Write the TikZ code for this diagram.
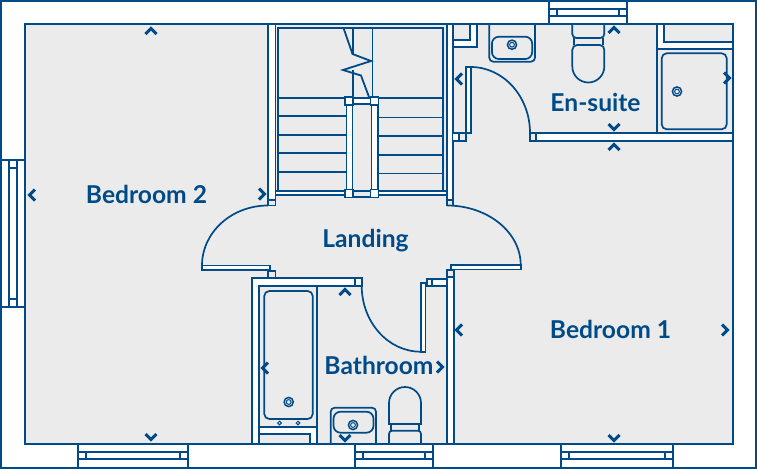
\documentclass[tikz,border=0pt]{standalone}
\usepackage{fontspec}
\setmainfont{Lato}
\definecolor{planblue}{HTML}{004B87}
\definecolor{plangrey}{HTML}{EBEBEB}
\tikzset{
  x=1pt,y=-1pt,
  plan/.style={draw=planblue,line width=1.7pt,line join=miter},
  wall/.style={plan,fill=white},
  fit/.style={plan,fill=plangrey},
  thin plan/.style={plan,line width=1.8pt},
  room/.style={text=planblue,font=\fontsize{24.6}{25}\selectfont\bfseries,inner sep=0pt,anchor=base},
  chev/.style={draw=planblue,line width=3pt,line cap=butt,line join=miter},
}
\newcommand{\chevup}[2]{\draw[chev] (#1-5.5,#2+3)--(#1,#2-2.5)--(#1+5.5,#2+3);}
\newcommand{\chevdown}[2]{\draw[chev] (#1-5.5,#2-3)--(#1,#2+2.5)--(#1+5.5,#2-3);}
\newcommand{\chevleft}[2]{\draw[chev] (#1+3,#2-5.5)--(#1-2.5,#2)--(#1+3,#2+5.5);}
\newcommand{\chevright}[2]{\draw[chev] (#1-3,#2-5.5)--(#1+2.5,#2)--(#1-3,#2+5.5);}
\newcommand{\drainat}[2]{\draw[plan,line width=1.5pt] (#1,#2) circle (4.6); \draw[plan,line width=1pt] (#1,#2) circle (2.4);}
\newcommand{\windowh}[7]{% x1 x2 y1 y2 y3 y4 unused
  \draw[wall] (#1,#3) rectangle (#2,#4);
  \draw[plan] (#1,#5)--(#2,#5) (#1,#6)--(#2,#6);
  \draw[plan] (#1+8,#5)--(#1+8,#6) (#2-8,#5)--(#2-8,#6);}
\begin{document}
\begin{tikzpicture}
\useasboundingbox (0,0) rectangle (757,469);
% frame and floor
\draw[wall] (0.8,0.8) rectangle (756.2,468.2);
\draw[fit] (25,24) rectangle (733,444);
% windows
\windowh{549.3}{626.7}{1}{24}{8.7}{15.7}{}
\windowh{78}{188}{444}{468}{452}{459}{}
\windowh{355}{432.7}{444}{468}{452}{459}{}
\windowh{560.7}{673}{444}{468}{452}{459}{}
\draw[wall] (1,160) rectangle (25,307);
\draw[plan] (8.7,160)--(8.7,307) (16.7,160)--(16.7,307);
\draw[plan] (8.7,168)--(16.7,168) (8.7,299)--(16.7,299);
% stair walls
\draw[wall] (268,24) rectangle (275.5,200);
\draw[plan,fill=plangrey] (268,200) rectangle (275.5,205.5);
\draw[wall] (447,24) rectangle (453.3,200);
\draw[plan,fill=plangrey] (447,200) rectangle (453.3,205.5);
% stair frame
\draw[plan] (275.5,24) rectangle (447,195);
\draw[plan] (278,28) rectangle (443,191);
\draw[wall] (275.5,191) rectangle (447,195);
% treads
\foreach \y in {98,116,134.7,153,172}{\draw[thin plan] (278,\y)--(346,\y);}
\foreach \y in {98,117.5,136,155,173.5}{\draw[thin plan] (377,\y)--(443,\y);}
% flight lines and break
\draw[thin plan] (353,28)--(353,54) (372.5,28)--(372.5,97) (353,70)--(353,97);
\draw[thin plan] (343.5,28)--(352.5,54)--(371,61)--(343,70)--(361,75.5)--(369,97);
% newel posts and rails
\draw[wall] (346.5,100)rectangle(352.5,193);
\draw[wall] (371.5,100)rectangle(378,193);
\draw[wall] (350,98)rectangle(373,104);
\draw[fit] (350,191)rectangle(373,197);
\foreach \x/\y in {345/96.7,370.5/96.7,345/189.5,370.5/189.5}{\draw[wall] (\x,\y) rectangle ++(8,8);}
% landing doors
\draw[wall] (202,265.5) rectangle (270,270);
\draw[wall] (451,265) rectangle (520.7,269.5);
\draw[plan] (268,205.5) arc[start angle=90,end angle=180,x radius=66,y radius=-60];
\draw[plan] (447,205.5) arc[start angle=90,end angle=0,x radius=73.7,y radius=-59.5];
% bathroom walls
\draw[wall] (252.3,444)--(252.3,278)--(361.7,278)--(361.7,285.7)--(259,285.7)--(259,444)--cycle;
\draw[wall] (355,278) rectangle (361.7,285.7);
\draw[plan,fill=plangrey] (268,271) rectangle (275.5,278);
\draw[wall] (447,270) rectangle (454,444);
\draw[plan,fill=plangrey] (447,270) rectangle (454,277);
\draw[wall] (425.5,278.7)--(447,278.7)--(447,285.7)--(425.5,285.7);
\draw[wall] (427,278.7) rectangle (432,285.7);
\draw[wall] (420.7,283.3) rectangle (425.5,351.7);
\draw[plan] (361.7,285.7) arc[start angle=180,end angle=270,x radius=59,y radius=-66];
% bath
\draw[plan] (317.3,285.7)--(317.3,444);
\draw[wall] (259,427)--(317.3,427)--(317.3,444)--(310,444)--(310,434)--(259,434)--cycle;
\draw[plan,rounded corners=5pt] (264.3,291) rectangle (312.7,419);
\drainat{288.7}{402}
\draw[plan,line width=1pt] (279.5,423) circle (1.8) (298,423) circle (1.8);
% bathroom basin and wc
\draw[plan,rounded corners=4pt] (330.7,444)--(330.7,407.7)--(376,407.7)--(376,444);
\draw[plan,rounded corners=7pt] (333.5,411.7) -- (373.5,411.7) -- (373.5,432.7) -- (333.5,432.7) -- cycle;
\drainat{353}{425}
\draw[plan] (389,424)--(389,403) arc[start angle=180,end angle=0,x radius=16,y radius=-16] --(421,424)--cycle;
\draw[plan] (389,444)--(389,434) to[out=90,in=180] (392,430.7)--(418,430.7) to[out=0,in=90] (421,434)--(421,444);
\draw[plan] (391,424)--(391,431) (419,424)--(419,431);
% en-suite
\draw[wall] (453.3,24)--(476.7,24)--(476.7,47)--(453.3,47)--(453.3,40)--(470,40)--(470,24);
\draw[plan] (453.3,24)--(453.3,47);
\draw[wall] (453.3,133)--(465.7,133)--(465.7,140.7)--(453.3,140.7);
\draw[plan,fill=plangrey] (459,133) rectangle (465.7,140.7);
\draw[wall] (465.7,67) rectangle (470.7,133);
\draw[plan] (470.7,67) arc[start angle=90,end angle=0,x radius=59.3,y radius=-66];
\draw[wall] (530,133) rectangle (733,140.7);
\draw[plan,fill=plangrey] (530,133) rectangle (536,140.7);
% shower
\draw[plan] (657.3,24)--(657.3,133);
\draw[wall] (657.3,24)--(664,24)--(664,41.7)--(733,41.7)--(733,49)--(657.3,49)--cycle;
\draw[plan,rounded corners=5pt] (661.7,53.3) rectangle (726.7,129.3);
\drainat{677}{91.5}
% en-suite basin and wc
\draw[plan,rounded corners=4pt] (489.3,24)--(489.3,61.7)--(535,61.7)--(535,24);
\draw[plan,rounded corners=7pt] (491.9,36.7) rectangle (532.2,59);
\drainat{512}{44.7}
\draw[plan,rounded corners=4pt] (572.3,24)--(572.3,38)--(604.3,38)--(604.3,24);
\draw[plan] (574,38)--(574,45) (603,38)--(603,45);
\draw[plan] (572.3,66.5)--(572.3,50) to[out=90,in=180] (577,45)--(600,45) to[out=0,in=90] (604.3,50)--(604.3,66.5) arc[start angle=0,end angle=180,x radius=16,y radius=16] --cycle;
% chevrons
\chevup{151}{31}\chevdown{151}{437}\chevleft{32}{195}\chevright{262}{194}
\chevleft{459}{79}\chevup{614}{30}\chevdown{614}{127}\chevup{614}{147}\chevright{727}{78}
\chevleft{459}{330}\chevright{725}{330}\chevdown{614}{438}
\chevup{345}{292}\chevleft{265}{368}\chevright{440}{367}\chevdown{345}{438}
% labels
\node[room] (bed2) at (146.5,203) {Bedroom 2};
\node[room] (suite) at (595.5,111) {En-suite};
\node[room] (landing) at (365.5,247) {Landing};
\node[room] (bed1) at (610.5,338) {Bedroom 1};
\node[room] (bath) at (379,374) {Bathroom};
\end{tikzpicture}
\end{document}
